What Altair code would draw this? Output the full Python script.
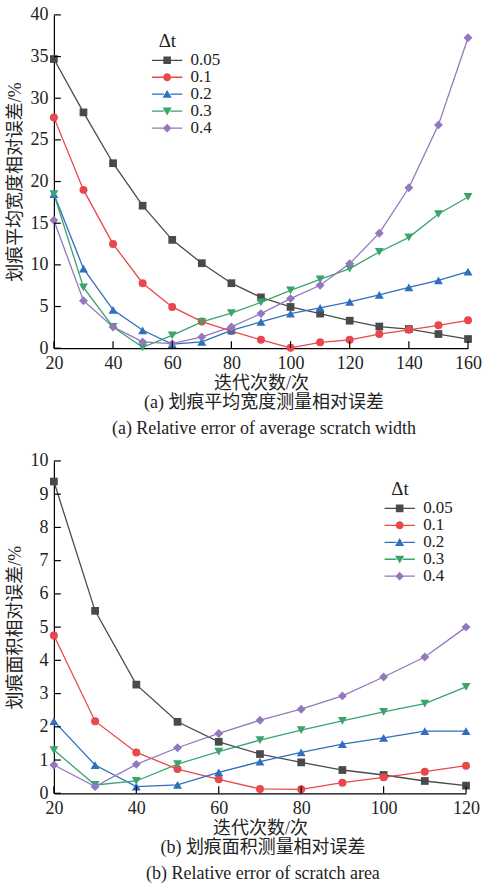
import altair as alt
import pandas as pd

FONT = "Liberation Serif, Noto Sans CJK SC"
SERIF = "Liberation Serif"
TXT = "#222222"

series = ["0.05", "0.1", "0.2", "0.3", "0.4"]
colors = ["#4a4a4a", "#e8474c", "#2f6fbe", "#3aa46c", "#9478bd"]
shapes = ["square", "circle", "triangle-up", "triangle-down", "diamond"]
marker_sizes = [60, 64, 80, 80, 80]

# legend symbols: short line + marker
legend_paths = [
    "M-3.8,-0.16 L-0.95,-0.16 L-0.95,0.16 L-3.8,0.16 Z M0.95,-0.16 L3.8,-0.16 L3.8,0.16 L0.95,0.16 Z M-0.95,-0.95 L0.95,-0.95 L0.95,0.95 L-0.95,0.95 Z",
    "M-3.8,-0.16 L-1,-0.16 L-1,0.16 L-3.8,0.16 Z M1,-0.16 L3.8,-0.16 L3.8,0.16 L1,0.16 Z M1,0 A1,1 0 1,1 -1,0 A1,1 0 1,1 1,0 Z",
    "M-3.8,-0.16 L-0.8,-0.16 L-0.8,0.16 L-3.8,0.16 Z M0.8,-0.16 L3.8,-0.16 L3.8,0.16 L0.8,0.16 Z M0,-1.05 L1.15,0.9 L-1.15,0.9 Z",
    "M-3.8,-0.16 L-0.8,-0.16 L-0.8,0.16 L-3.8,0.16 Z M0.8,-0.16 L3.8,-0.16 L3.8,0.16 L0.8,0.16 Z M0,1.05 L1.15,-0.9 L-1.15,-0.9 Z",
    "M-3.8,-0.16 L-1,-0.16 L-1,0.16 L-3.8,0.16 Z M1,-0.16 L3.8,-0.16 L3.8,0.16 L1,0.16 Z M0,-1.1 L1.1,0 L0,1.1 L-1.1,0 Z",
]

# (a) relative error of average scratch width
iters_a = [20, 30, 40, 50, 60, 70, 80, 90, 100, 110, 120, 130, 140, 150, 160]
width_005 = [34.7, 28.3, 22.2, 17.1, 13.0, 10.2, 7.8, 6.1, 4.95, 4.15, 3.3, 2.6, 2.3, 1.7, 1.1]
width_01 = [27.7, 19.0, 12.5, 7.8, 4.95, 3.2, 2.05, 1.0, 0.05, 0.7, 1.0, 1.7, 2.2, 2.75, 3.35]
width_02 = [18.5, 9.55, 4.6, 2.15, 0.5, 0.75, 2.15, 3.15, 4.15, 4.85, 5.55, 6.4, 7.3, 8.15, 9.2]
width_03 = [18.5, 7.3, 2.55, 0.1, 1.55, 3.15, 4.2, 5.5, 6.95, 8.25, 9.55, 11.55, 13.3, 16.1, 18.15]
width_04 = [15.35, 5.7, 2.55, 0.75, 0.55, 1.35, 2.55, 4.15, 5.95, 7.55, 10.15, 13.8, 19.25, 26.8, 37.25]
yticks_a = [0, 5, 10, 15, 20, 25, 30, 35, 40]
xticks_a = [20, 40, 60, 80, 100, 120, 140, 160]

# (b) relative error of scratch area
iters_b = [20, 30, 40, 50, 60, 70, 80, 90, 100, 110, 120]
area_005 = [9.38, 5.49, 3.27, 2.15, 1.55, 1.18, 0.93, 0.70, 0.55, 0.37, 0.23]
area_01 = [4.75, 2.17, 1.23, 0.73, 0.42, 0.13, 0.12, 0.32, 0.48, 0.65, 0.83]
area_02 = [2.17, 0.85, 0.2, 0.25, 0.63, 0.95, 1.23, 1.48, 1.67, 1.87, 1.87]
area_03 = [1.3, 0.25, 0.37, 0.88, 1.25, 1.6, 1.9, 2.18, 2.45, 2.7, 3.2]
area_04 = [0.85, 0.2, 0.87, 1.37, 1.8, 2.2, 2.53, 2.93, 3.5, 4.1, 5.0]
yticks_b = [0, 1, 2, 3, 4, 5, 6, 7, 8, 9, 10]
xticks_b = [20, 40, 60, 80, 100, 120]


def make_panel(tag, iters, values, xticks, yticks, ytitle, cap_cn, cap_en,
               width, height, leg_x, leg_y, row_pad):
    rows = []
    for s, vals in zip(series, values):
        for it, v in zip(iters, vals):
            rows.append({"iter": it, "err": v, "series": s})
    df = pd.DataFrame(rows)
    lf = "dt_" + tag

    xscale = alt.Scale(domain=[xticks[0], xticks[-1]], nice=False, zero=False)
    yscale = alt.Scale(domain=[yticks[0], yticks[-1]], nice=False)
    xaxis = alt.Axis(values=xticks, ticks=False, grid=False, domainColor="black",
                     domainWidth=1.2, labelFont=SERIF, labelFontSize=18, labelColor=TXT,
                     labelPadding=6, labelFlush=False, labelOverlap=False,
                     title="迭代次数/次", titleFont=FONT, titleFontSize=18,
                     titleFontWeight="normal", titleColor=TXT, titlePadding=2)
    yaxis = alt.Axis(values=yticks, ticks=False, grid=False, domainColor="black",
                     domainWidth=1.2, labelFont=SERIF, labelFontSize=18, labelColor=TXT,
                     labelPadding=6, labelFlush=False, labelOverlap=False,
                     title=ytitle, titleFont=FONT, titleFontSize=18,
                     titleFontWeight="normal", titleColor=TXT, titlePadding=5)
    x = alt.X("iter:Q", scale=xscale, axis=xaxis)
    y = alt.Y("err:Q", scale=yscale, axis=yaxis)

    layers = []
    for s, c in zip(series, colors):
        layers.append(
            alt.Chart(df).transform_filter(alt.datum.series == s)
            .mark_line(strokeWidth=1.3, color=c).encode(x=x, y=y)
        )
    for s, c, sh, sz in zip(series, colors, shapes, marker_sizes):
        layers.append(
            alt.Chart(df).transform_filter(alt.datum.series == s).mark_point(
                filled=True, shape=sh, size=sz, color=c, opacity=1, strokeWidth=0
            ).encode(x=x, y=y)
        )

    leg = dict(title="Δt", orient="none", legendX=leg_x, legendY=leg_y,
               titleFont=SERIF, titleFontSize=19, titleFontWeight="normal",
               titleColor=TXT, titlePadding=1,
               labelFont=SERIF, labelFontSize=17, labelColor=TXT,
               symbolSize=64, symbolStrokeWidth=0, labelOffset=15,
               rowPadding=row_pad)
    legend_layer = alt.Chart(df).transform_calculate(**{lf: "datum.series"}).transform_filter(
        alt.datum.err < -1000
    ).mark_point(filled=True, opacity=1).encode(
        x=x, y=y,
        color=alt.Color(lf + ":N", scale=alt.Scale(domain=series, range=colors),
                        legend=alt.Legend(**leg)),
        shape=alt.Shape(lf + ":N", scale=alt.Scale(domain=series, range=legend_paths),
                        legend=alt.Legend(**leg)),
    )
    layers.append(legend_layer)

    ydf = pd.DataFrame({"err": yticks})
    xdf = pd.DataFrame({"iter": xticks})
    layers.append(
        alt.Chart(ydf).mark_rule(color="black", strokeWidth=1.2).encode(
            y=y, x=alt.value(0), x2=alt.value(7),
        )
    )
    layers.append(
        alt.Chart(xdf).mark_rule(color="black", strokeWidth=1.2).encode(
            x=x, y=alt.value(height), y2=alt.value(height - 7),
        )
    )

    return alt.layer(*layers).properties(
        width=width, height=height,
        title=alt.TitleParams(
            text=cap_cn, subtitle=cap_en, orient="bottom", anchor="middle",
            frame="group", font=FONT, fontSize=18, fontWeight="normal", color=TXT,
            subtitleFont=SERIF, subtitleFontSize=18, subtitleColor=TXT,
            subtitlePadding=8, offset=2, dx=3,
        ),
    )


panel_a = make_panel("a", iters_a, [width_005, width_01, width_02, width_03, width_04],
                     xticks_a, yticks_a, "划痕平均宽度相对误差/%",
                     "(a) 划痕平均宽度测量相对误差", "(a) Relative error of average scratch width",
                     415, 334, 105, 17, -3)
panel_b = make_panel("b", iters_b, [area_005, area_01, area_02, area_03, area_04],
                     xticks_b, yticks_b, "划痕面积相对误差/%",
                     "(b) 划痕面积测量相对误差", "(b) Relative error of scratch area",
                     413, 333, 338, 19, -2)

chart = alt.vconcat(panel_a, panel_b, spacing=14).resolve_scale(
    color="independent", shape="independent"
).resolve_legend(color="independent", shape="independent").properties(
    padding={"left": 7, "top": 5, "right": 3, "bottom": 3},
    background="white",
).configure_view(stroke=None)

chart.save("out.html", embed_options={"renderer": "svg", "actions": False})
